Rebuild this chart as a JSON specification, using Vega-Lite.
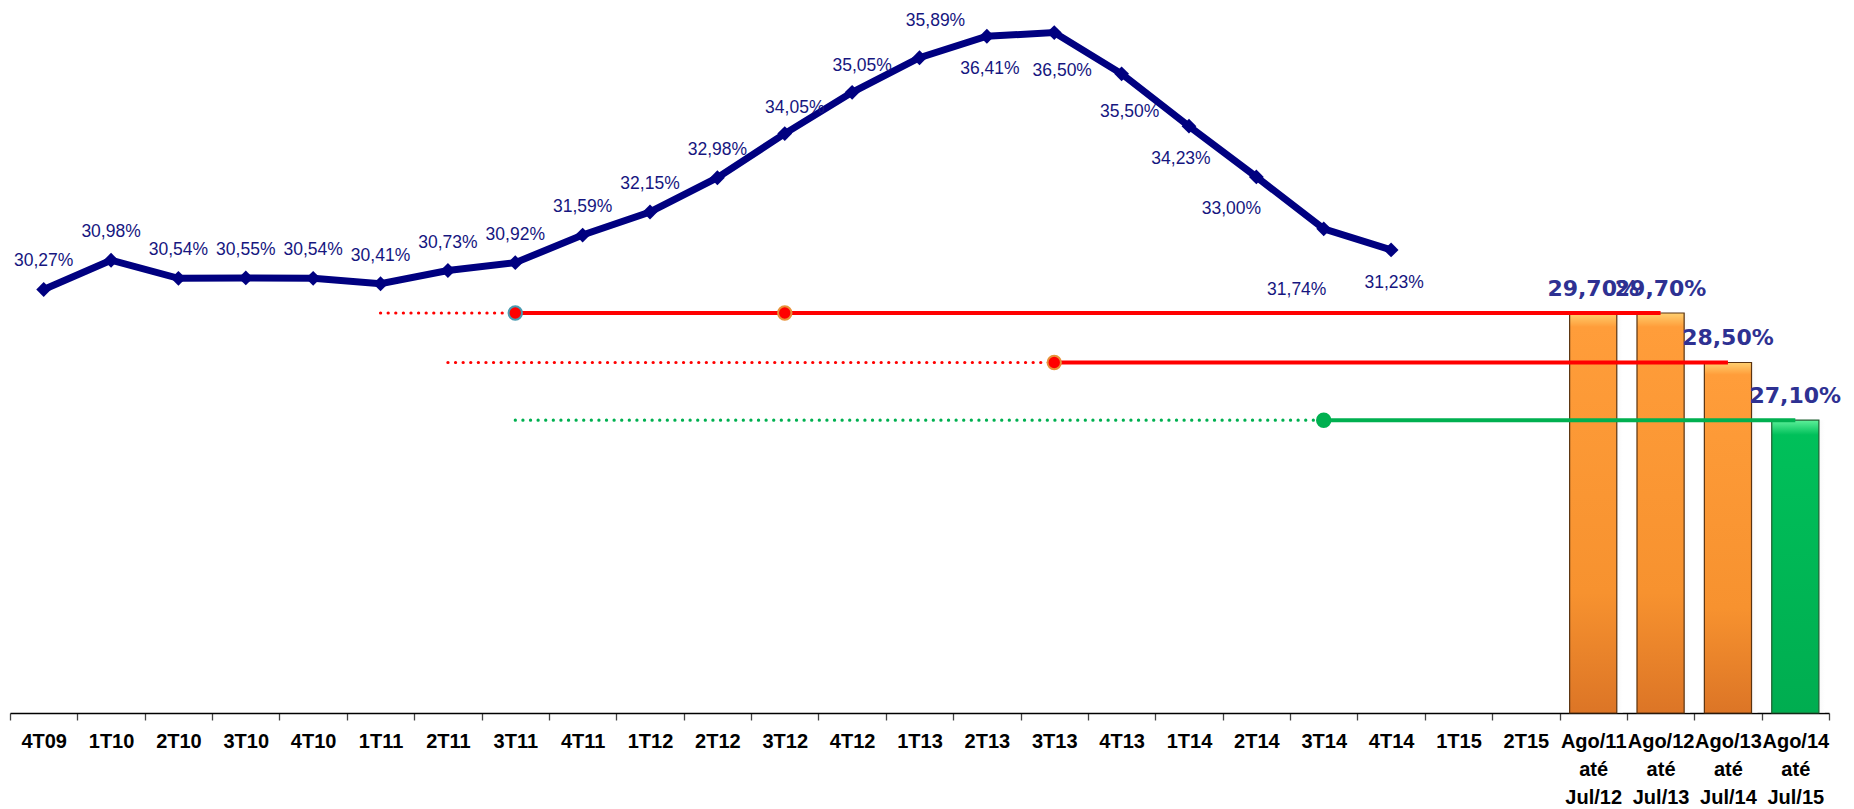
{
  "$schema": "https://vega.github.io/schema/vega-lite/v6.json",
  "autosize": "none",
  "width": 1819,
  "height": 713,
  "padding": {"left": 10, "top": 0, "right": 25, "bottom": 96},
  "background": "white",
  "config": {
    "view": {"stroke": null},
    "locale": {"number": {"decimal": ",", "thousands": ".", "grouping": [3], "currency": ["R$", ""]}},
    "axis": {"grid": false}
  },
  "datasets": {
    "serie": [
      {"periodo": "4T09", "valor": 0.3027},
      {"periodo": "1T10", "valor": 0.3098},
      {"periodo": "2T10", "valor": 0.3054},
      {"periodo": "3T10", "valor": 0.3055},
      {"periodo": "4T10", "valor": 0.3054},
      {"periodo": "1T11", "valor": 0.3041},
      {"periodo": "2T11", "valor": 0.3073},
      {"periodo": "3T11", "valor": 0.3092},
      {"periodo": "4T11", "valor": 0.3159},
      {"periodo": "1T12", "valor": 0.3215},
      {"periodo": "2T12", "valor": 0.3298},
      {"periodo": "3T12", "valor": 0.3405},
      {"periodo": "4T12", "valor": 0.3505},
      {"periodo": "1T13", "valor": 0.3589},
      {"periodo": "2T13", "valor": 0.3641},
      {"periodo": "3T13", "valor": 0.3650},
      {"periodo": "4T13", "valor": 0.3550},
      {"periodo": "1T14", "valor": 0.3423},
      {"periodo": "2T14", "valor": 0.3300},
      {"periodo": "3T14", "valor": 0.3174},
      {"periodo": "4T14", "valor": 0.3123}
    ],
    "barras": [
      {"periodo": "Ago/11 até Jul/12", "valor": 0.297, "grupo": "anterior"},
      {"periodo": "Ago/12 até Jul/13", "valor": 0.297, "grupo": "anterior"},
      {"periodo": "Ago/13 até Jul/14", "valor": 0.285, "grupo": "anterior"},
      {"periodo": "Ago/14 até Jul/15", "valor": 0.271, "grupo": "atual"}
    ],
    "metas": [
      {"linha": "A", "valor": 0.297, "inicio": "1T11", "marco": "3T11", "fim": "Ago/11 até Jul/12"},
      {"linha": "B", "valor": 0.297, "inicio": "3T12", "marco": "3T12", "fim": "Ago/12 até Jul/13"},
      {"linha": "C", "valor": 0.285, "inicio": "2T11", "marco": "3T13", "fim": "Ago/13 até Jul/14"},
      {"linha": "D", "valor": 0.271, "inicio": "3T11", "marco": "3T14", "fim": "Ago/14 até Jul/15"}
    ]
  },
  "encoding": {
    "x": {
      "field": "periodo",
      "type": "nominal",
      "sort": null,
      "scale": {
        "type": "band",
        "paddingInner": 0,
        "paddingOuter": 0,
        "domain": ["4T09", "1T10", "2T10", "3T10", "4T10", "1T11", "2T11", "3T11", "4T11", "1T12", "2T12", "3T12", "4T12", "1T13", "2T13", "3T13", "4T13", "1T14", "2T14", "3T14", "4T14", "1T15", "2T15", "Ago/11 até Jul/12", "Ago/12 até Jul/13", "Ago/13 até Jul/14", "Ago/14 até Jul/15"]
      },
      "axis": {
        "title": null,
        "domainColor": "#000000",
        "domainWidth": 1.5,
        "tickColor": "#444444",
        "tickSize": 7,
        "tickWidth": 1.3,
        "tickBand": "extent",
        "labelFont": "Liberation Sans, Arial, sans-serif",
        "labelFontSize": 20,
        "labelFontWeight": "bold",
        "labelColor": "#000000",
        "labelPadding": 11,
        "labelLineHeight": 28,
        "labelOverlap": false,
        "labelBound": false,
        "labelAngle": 0,
        "labelBaseline": "top",
        "labelExpr": "split(datum.label, ' ')"
      }
    },
    "y": {
      "field": "valor",
      "type": "quantitative",
      "scale": {"domain": [0.2, 0.3729], "nice": false, "zero": false},
      "axis": null
    }
  },
  "layer": [
    {
      "data": {"name": "barras"},
      "mark": {"type": "bar", "width": {"band": 0.7}, "xOffset": 6, "fill": {"gradient": "linear", "x1": 0, "y1": 0, "x2": 1, "y2": 0, "stops": [{"offset": 0, "color": "#9a9a9a"}, {"offset": 1, "color": "#ffffff"}]}, "opacity": 0.45},
      "encoding": {"y2": {"datum": 0.2}}
    },
    {
      "data": {"name": "barras"},
      "transform": [{"filter": "datum.grupo == 'anterior'"}],
      "mark": {
        "type": "bar",
        "width": {"band": 0.7},
        "stroke": "#5a3310",
        "strokeWidth": 1.2,
        "fill": {"gradient": "linear", "x1": 0, "y1": 0, "x2": 0, "y2": 1, "stops": [{"offset": 0, "color": "#ffd070"}, {"offset": 0.035, "color": "#ff9d3a"}, {"offset": 0.7, "color": "#f7922f"}, {"offset": 1, "color": "#dc7526"}]}
      },
      "encoding": {"y2": {"datum": 0.2}}
    },
    {
      "data": {"name": "barras"},
      "transform": [{"filter": "datum.grupo == 'atual'"}],
      "mark": {
        "type": "bar",
        "width": {"band": 0.7},
        "stroke": "#1e5f30",
        "strokeWidth": 1.2,
        "fill": {"gradient": "linear", "x1": 0, "y1": 0, "x2": 0, "y2": 1, "stops": [{"offset": 0, "color": "#5ef09a"}, {"offset": 0.05, "color": "#00c05a"}, {"offset": 1, "color": "#00ad50"}]}
      },
      "encoding": {"y2": {"datum": 0.2}}
    },
    {
      "data": {"name": "barras"},
      "mark": {"type": "text", "font": "DejaVu Sans", "fontSize": 22, "fontWeight": "bold", "color": "#2e3192", "baseline": "alphabetic", "dy": -17},
      "encoding": {"text": {"field": "valor", "type": "quantitative", "format": ".2%"}}
    },
    {
      "data": {"name": "metas"},
      "mark": {"type": "rule", "strokeWidth": 3.2, "strokeDash": [0.1, 7.5], "strokeCap": "round"},
      "encoding": {
        "x": {"field": "inicio", "type": "nominal"},
        "x2": {"field": "marco"},
        "color": {"field": "linha", "type": "nominal", "scale": {"domain": ["A", "B", "C", "D"], "range": ["#ff0000", "#ff0000", "#ff0000", "#00b050"]}, "legend": null}
      }
    },
    {
      "data": {"name": "metas"},
      "mark": {"type": "rule", "strokeWidth": 4},
      "encoding": {
        "x": {"field": "marco", "type": "nominal"},
        "x2": {"field": "fim"},
        "color": {"field": "linha", "type": "nominal", "scale": {"domain": ["A", "B", "C", "D"], "range": ["#ff0000", "#ff0000", "#ff0000", "#00b050"]}, "legend": null}
      }
    },
    {
      "data": {"name": "metas"},
      "mark": {"type": "point", "shape": "circle", "size": 180, "filled": true, "strokeWidth": 2, "opacity": 1},
      "encoding": {
        "x": {"field": "marco", "type": "nominal"},
        "fill": {"field": "linha", "type": "nominal", "scale": {"domain": ["A", "B", "C", "D"], "range": ["#ff0000", "#ff0000", "#ff0000", "#00b050"]}, "legend": null},
        "stroke": {"field": "linha", "type": "nominal", "scale": {"domain": ["A", "B", "C", "D"], "range": ["#4a9bb0", "#e8923a", "#e8923a", "#00b050"]}, "legend": null}
      }
    },
    {
      "data": {"name": "serie"},
      "mark": {"type": "line", "color": "#000080", "strokeWidth": 7, "point": {"shape": "diamond", "size": 220, "filled": true, "color": "#000080"}},
      "encoding": {}
    },
    {
      "data": {"name": "serie"},
      "transform": [{"filter": {"field": "periodo", "oneOf": ["4T09", "1T10", "2T10", "3T10", "4T10", "1T11", "2T11", "3T11", "4T11", "1T12", "2T12"]}}],
      "mark": {"type": "text", "font": "Liberation Sans, Arial, sans-serif", "fontSize": 17.5, "color": "#16167f", "baseline": "middle", "dy": -28},
      "encoding": {"text": {"field": "valor", "type": "quantitative", "format": ".2%"}}
    },
    {
      "data": {"name": "serie"},
      "transform": [{"filter": {"field": "periodo", "oneOf": ["3T12", "4T12"]}}],
      "mark": {"type": "text", "font": "Liberation Sans, Arial, sans-serif", "fontSize": 17.5, "color": "#16167f", "baseline": "middle", "dy": -26, "dx": 10},
      "encoding": {"text": {"field": "valor", "type": "quantitative", "format": ".2%"}}
    },
    {
      "data": {"name": "serie"},
      "transform": [{"filter": {"field": "periodo", "oneOf": ["1T13"]}}],
      "mark": {"type": "text", "font": "Liberation Sans, Arial, sans-serif", "fontSize": 17.5, "color": "#16167f", "baseline": "middle", "dy": -37, "dx": 16},
      "encoding": {"text": {"field": "valor", "type": "quantitative", "format": ".2%"}}
    },
    {
      "data": {"name": "serie"},
      "transform": [{"filter": {"field": "periodo", "oneOf": ["2T13", "4T14"]}}],
      "mark": {"type": "text", "font": "Liberation Sans, Arial, sans-serif", "fontSize": 17.5, "color": "#16167f", "baseline": "middle", "dy": 33, "dx": 3},
      "encoding": {"text": {"field": "valor", "type": "quantitative", "format": ".2%"}}
    },
    {
      "data": {"name": "serie"},
      "transform": [{"filter": {"field": "periodo", "oneOf": ["3T13", "4T13"]}}],
      "mark": {"type": "text", "font": "Liberation Sans, Arial, sans-serif", "fontSize": 17.5, "color": "#16167f", "baseline": "middle", "dy": 38, "dx": 8},
      "encoding": {"text": {"field": "valor", "type": "quantitative", "format": ".2%"}}
    },
    {
      "data": {"name": "serie"},
      "transform": [{"filter": {"field": "periodo", "oneOf": ["1T14"]}}],
      "mark": {"type": "text", "font": "Liberation Sans, Arial, sans-serif", "fontSize": 17.5, "color": "#16167f", "baseline": "middle", "dy": 33, "dx": -8},
      "encoding": {"text": {"field": "valor", "type": "quantitative", "format": ".2%"}}
    },
    {
      "data": {"name": "serie"},
      "transform": [{"filter": {"field": "periodo", "oneOf": ["2T14"]}}],
      "mark": {"type": "text", "font": "Liberation Sans, Arial, sans-serif", "fontSize": 17.5, "color": "#16167f", "baseline": "middle", "dy": 32, "dx": -25},
      "encoding": {"text": {"field": "valor", "type": "quantitative", "format": ".2%"}}
    },
    {
      "data": {"name": "serie"},
      "transform": [{"filter": {"field": "periodo", "oneOf": ["3T14"]}}],
      "mark": {"type": "text", "font": "Liberation Sans, Arial, sans-serif", "fontSize": 17.5, "color": "#16167f", "baseline": "middle", "dy": 61, "dx": -27},
      "encoding": {"text": {"field": "valor", "type": "quantitative", "format": ".2%"}}
    }
  ]
}
